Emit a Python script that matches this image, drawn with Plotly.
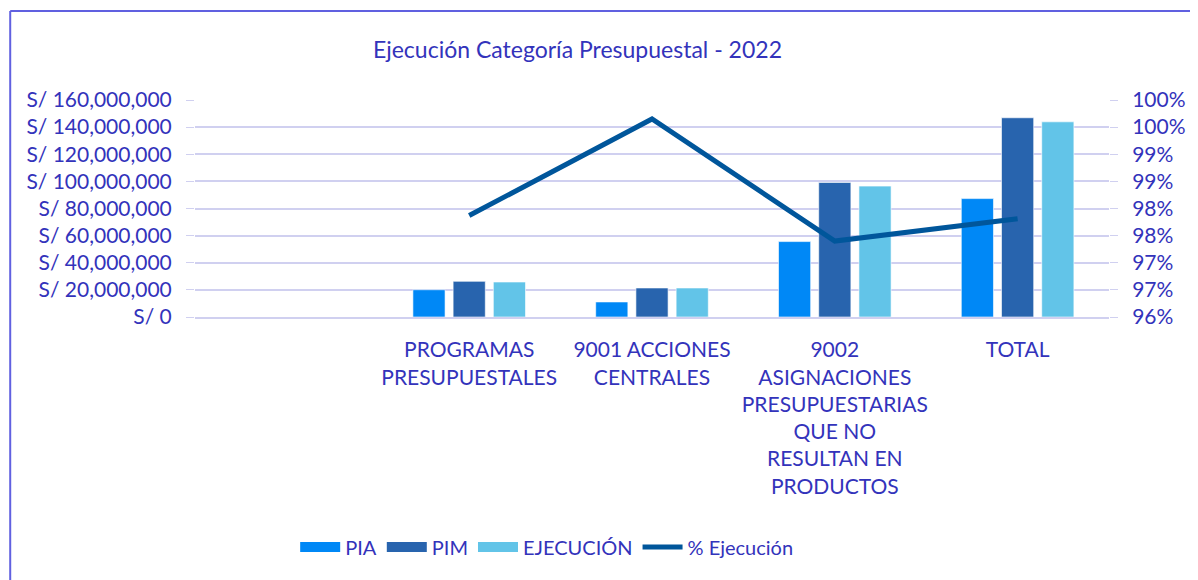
import plotly.graph_objects as go

# category labels (first slot is empty in the original chart)
categorias = [" ", "PROGRAMAS<br>PRESUPUESTALES", "9001 ACCIONES<br>CENTRALES",
              "9002<br>ASIGNACIONES<br>PRESUPUESTARIAS<br>QUE NO<br>RESULTAN EN<br>PRODUCTOS",
              "TOTAL"]
pia = [None, 20_100_000, 11_100_000, 55_600_000, 87_300_000]
pim = [None, 26_300_000, 21_400_000, 99_200_000, 146_900_000]
ejecucion = [None, 25_800_000, 21_400_000, 96_500_000, 143_900_000]
pct_ejecucion = [None, 97.87, 99.65, 97.40, 97.81]

left_ticks = list(range(0, 160_000_001, 20_000_000))
left_labels = ["S/ {:,}".format(v) if v else "S/ 0" for v in left_ticks]
right_ticks = [96, 96.5, 97, 97.5, 98, 98.5, 99, 99.5, 100]
right_labels = ["96%", "97%", "97%", "98%", "98%", "99%", "99%", "100%", "100%"]

TXT = "#3333bb"
FONT = "Lato"
c_pia, c_pim, c_eje, c_line = "#0088f6", "#2864ae", "#62c4e8", "#00569b"

fig = go.Figure()
for name, vals, col in [("PIA", pia, c_pia), ("PIM", pim, c_pim), ("EJECUCIÓN", ejecucion, c_eje)]:
    fig.add_bar(x=categorias, y=vals, name=name, marker_color=col,
                marker_line=dict(color="rgba(255,255,255,0.6)", width=1),
                showlegend=False, legendgroup=name)
    # wide legend swatch like the original
    fig.add_scatter(x=[None], y=[None], mode="lines", name=name, legendgroup=name,
                    line=dict(color=col, width=12))

fig.add_scatter(x=categorias, y=pct_ejecucion, name="% Ejecución", yaxis="y2",
                mode="lines", line=dict(color=c_line, width=5))

# page body has an 8px margin, so the figure is a bit smaller than the window
W, H = 1190, 572
L, R, T, B = 187, 83, 92, 263
pw, ph = W - L - R, H - T - B

fig.update_layout(
    width=W, height=H,
    margin=dict(l=L, r=R, t=T, b=B),
    paper_bgcolor="white", plot_bgcolor="white",
    font=dict(family=FONT, color=TXT, size=17),
    title=dict(text="Ejecución Categoría Presupuestal - 2022", x=(572 - L) / pw, xref="paper",
               xanchor="center", y=1 - 42 / H, yanchor="middle",
               font=dict(size=23, color=TXT, family=FONT)),
    barmode="group", bargap=0.34, bargroupgap=0.2,
    xaxis=dict(type="category", tickfont=dict(size=21), showgrid=False,
               showline=True, linecolor="#d0d0f0", linewidth=2, ticks="",
               ticklabelstandoff=13),
    yaxis=dict(range=[0, 160_000_000], tickvals=left_ticks, ticktext=left_labels,
               tickfont=dict(size=21), gridcolor="#d0d0f0", gridwidth=2,
               zeroline=False, ticks="outside", ticklen=8, tickcolor="#d0d0f0",
               ticklabelstandoff=10),
    yaxis2=dict(range=[96, 100], tickvals=right_ticks, ticktext=right_labels,
                overlaying="y", side="right", showgrid=False, zeroline=False,
                tickfont=dict(size=21), ticks="outside", ticklen=8, tickcolor="#d0d0f0",
                ticklabelstandoff=10),
    legend=dict(orientation="h", x=(541 - L) / pw, xanchor="center",
                y=-(539 - T - ph) / ph, yanchor="middle",
                font=dict(size=20), itemwidth=40),
    shapes=[
        dict(type="line", xref="paper", yref="paper",
             x0=(1 - L) / pw, x1=(W - L) / pw, y0=1 + (T - 3) / ph, y1=1 + (T - 3) / ph,
             line=dict(color="#6060e0", width=2)),
        dict(type="line", xref="paper", yref="paper",
             x0=(1 - L) / pw, x1=(1 - L) / pw, y0=1 + (T - 3) / ph, y1=-(H - T - ph) / ph,
             line=dict(color="#6060e0", width=2)),
    ],
)

fig.write_html("out.html")
